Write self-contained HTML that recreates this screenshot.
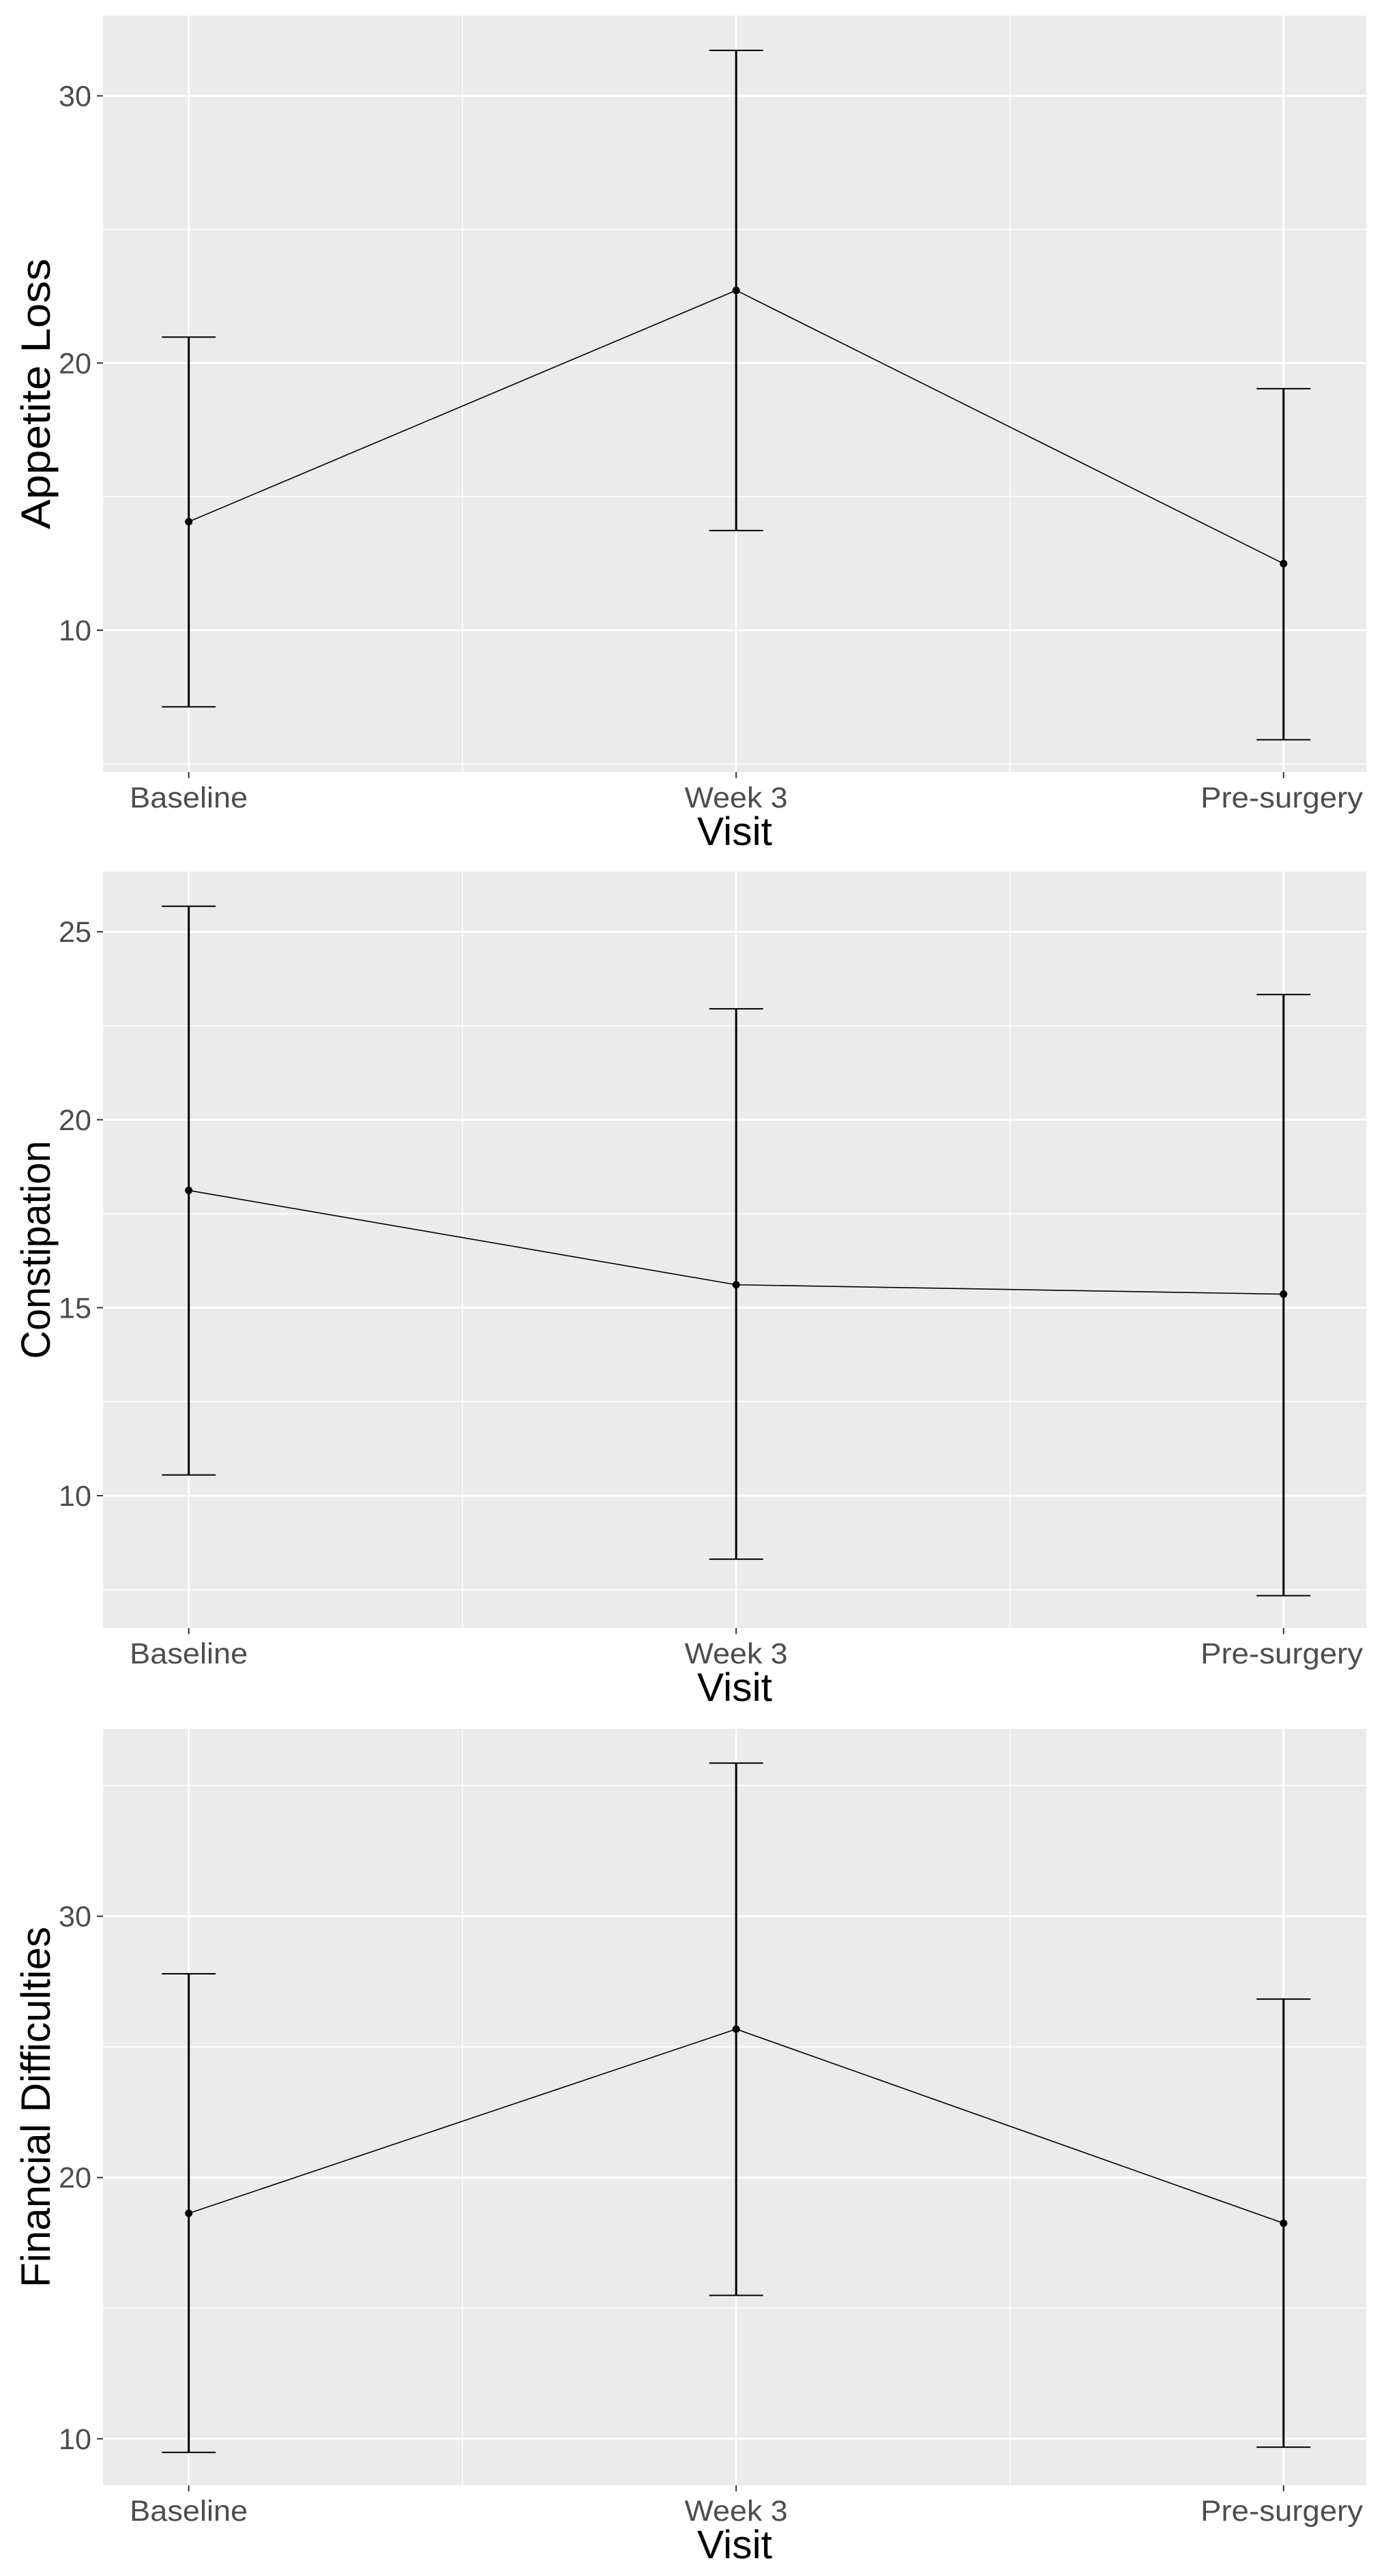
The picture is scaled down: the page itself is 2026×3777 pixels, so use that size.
<!DOCTYPE html>
<html><head><meta charset="utf-8"><style>
html,body{margin:0;padding:0;background:#fff;}
svg{display:block;font-family:"Liberation Sans",sans-serif;}
</style></head><body>
<svg id="chart" width="2026" height="3777" viewBox="0 0 2026 3777" xmlns="http://www.w3.org/2000/svg"></svg>
<script>
const categories = ["Baseline", "Week 3", "Pre-surgery"];
const appetiteMean = [14.06, 22.72, 12.49];
const appetiteUpper = [20.97, 31.7, 19.04];
const appetiteLower = [7.13, 13.73, 5.9];
const constipationMean = [18.12, 15.61, 15.36];
const constipationUpper = [25.68, 22.95, 23.33];
const constipationLower = [10.55, 8.31, 7.34];
const financialMean = [18.63, 25.68, 18.25];
const financialUpper = [27.8, 35.86, 26.83];
const financialLower = [9.48, 15.49, 9.68];
const appetiteTicks = [10, 20, 30];
const constipationTicks = [10, 15, 20, 25];
const financialTicks = [10, 20, 30];

const NS = "http://www.w3.org/2000/svg";
const svg = document.getElementById("chart");
function mk(tag, attrs, parent) {
  const e = document.createElementNS(NS, tag);
  for (const k in attrs) e.setAttribute(k, attrs[k]);
  (parent || svg).appendChild(e);
  return e;
}
const X0 = 151, X1 = 2003;
const catLabelLen = [173, 151, 238];
function xScale(i) { return 276.7 + i * (1881.7 - 276.7) / (categories.length - 1); }

const panels = [
  {name: "appetite-loss", title: "Appetite Loss", tlen: 397, mean: appetiteMean, up: appetiteUpper, lo: appetiteLower, ticks: appetiteTicks, top: 23, bottom: 1132, dmin: 4.69, dmax: 33.0},
  {name: "constipation", title: "Constipation", tlen: 320, mean: constipationMean, up: constipationUpper, lo: constipationLower, ticks: constipationTicks, top: 1278, bottom: 2387, dmin: 6.48, dmax: 26.6},
  {name: "financial-difficulties", title: "Financial Difficulties", tlen: 529, mean: financialMean, up: financialUpper, lo: financialLower, ticks: financialTicks, top: 2535, bottom: 3644, dmin: 8.22, dmax: 37.17}
];

panels.forEach(p => {
  const g = mk("g", {});
  
  
  const y = v => p.bottom - (v - p.dmin) / (p.dmax - p.dmin) * (p.bottom - p.top);
  const bg = mk("rect", {x: X0, y: p.top, width: X1 - X0, height: p.bottom - p.top, fill: "#EBEBEB"}, g);
  
  
  const step = p.ticks[1] - p.ticks[0];
  for (let v = p.ticks[0] - step / 2; v <= p.dmax; v += step) {
    if (v < p.dmin) continue;
    const l = mk("line", {x1: X0, x2: X1, y1: y(v), y2: y(v), stroke: "#fff", "stroke-width": 1.5}, g);
    
    
  }
  for (let i = 0; i < categories.length - 1; i++) {
    const xm = (xScale(i) + xScale(i + 1)) / 2;
    const l = mk("line", {x1: xm, x2: xm, y1: p.top, y2: p.bottom, stroke: "#fff", "stroke-width": 1.5}, g);
    
    
  }
  p.ticks.forEach(t => {
    const l = mk("line", {x1: X0, x2: X1, y1: y(t), y2: y(t), stroke: "#fff", "stroke-width": 3}, g);
    
    
    const tk = mk("line", {x1: X0 - 9, x2: X0, y1: y(t), y2: y(t), stroke: "#333", "stroke-width": 2}, g);
    
    
    const tx = mk("text", {x: 134, y: y(t) + 15, "text-anchor": "end", "font-size": 43, fill: "#4D4D4D", textLength: 48, lengthAdjust: "spacingAndGlyphs"}, g);
    tx.textContent = t;
    
    
  });
  categories.forEach((c, i) => {
    const l = mk("line", {x1: xScale(i), x2: xScale(i), y1: p.top, y2: p.bottom, stroke: "#fff", "stroke-width": 3}, g);
    
    
    const tk = mk("line", {x1: xScale(i), x2: xScale(i), y1: p.bottom, y2: p.bottom + 9, stroke: "#333", "stroke-width": 2}, g);
    
    
    let anchor = "middle", xx = xScale(i);
    if (i === categories.length - 1) { anchor = "end"; xx = 1998; }
    const tx = mk("text", {x: xx, y: p.bottom + 52, "text-anchor": anchor, "font-size": 43, fill: "#4D4D4D", textLength: catLabelLen[i], lengthAdjust: "spacingAndGlyphs"}, g);
    tx.textContent = c;
    
    
  });
  const pts = p.mean.map((v, i) => xScale(i) + "," + y(v)).join(" ");
  const pl = mk("polyline", {points: pts, fill: "none", stroke: "#000", "stroke-width": 1.6}, g);
  
  
  p.mean.forEach((v, i) => {
    const eg = mk("g", {}, g);
    
    
    const cx = xScale(i);
    mk("line", {x1: cx, x2: cx, y1: y(p.up[i]), y2: y(p.lo[i]), stroke: "#000", "stroke-width": 3}, eg);
    mk("line", {x1: cx - 39.5, x2: cx + 39.5, y1: y(p.up[i]), y2: y(p.up[i]), stroke: "#000", "stroke-width": 2}, eg);
    mk("line", {x1: cx - 39.5, x2: cx + 39.5, y1: y(p.lo[i]), y2: y(p.lo[i]), stroke: "#000", "stroke-width": 2}, eg);
    const c = mk("circle", {cx: cx, cy: y(v), r: 5.5, fill: "#000"}, g);
    
    
  });
  const xt = mk("text", {x: (X0 + X1) / 2, y: p.bottom + 107, "text-anchor": "middle", "font-size": 58, fill: "#000", textLength: 110, lengthAdjust: "spacingAndGlyphs"}, g);
  xt.textContent = "Visit";
  
  
  const cy = (p.top + p.bottom) / 2;
  const yt = mk("text", {x: 0, y: 0, "text-anchor": "middle", "font-size": 60, fill: "#000", textLength: p.tlen, lengthAdjust: "spacingAndGlyphs", transform: "translate(73," + cy + ") rotate(-90)"}, g);
  yt.textContent = p.title;
  
  
});
</script>
</body></html>
